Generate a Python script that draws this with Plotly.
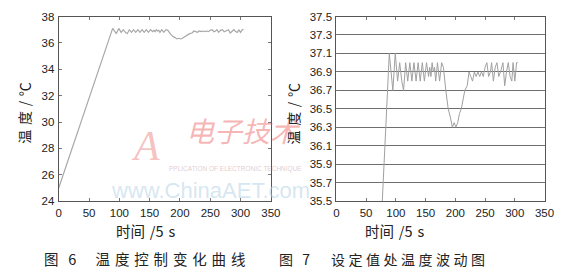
import plotly.graph_objects as go

# time (x 5 s) and temperature (°C)
time_s = [0, 89, 95, 99, 103, 106.5, 110, 113, 116.5, 120, 123.5, 127, 130.5, 134,
          137.5, 141, 144.5, 148, 151.5, 155, 157, 159, 161, 163, 165, 167, 170,
          173.5, 177, 180, 184, 188, 192, 195, 198, 201, 204, 207, 210, 213, 216,
          220, 223, 226, 229, 232, 235, 238, 241, 244, 247, 250, 253, 256, 259,
          261, 264, 267, 270, 273, 276, 280, 283, 286, 289, 292, 295, 297, 300,
          303, 305]
temp_c = [25.0, 37.1, 36.7, 37.1, 36.8, 37.0, 36.8, 36.7, 37.0, 36.8, 37.0, 36.8,
          37.0, 36.8, 37.0, 36.8, 37.0, 36.8, 37.0, 36.85, 36.95, 36.85, 37.0, 36.9,
          36.95, 36.8, 37.0, 36.8, 37.0, 36.95, 36.7, 36.5, 36.4, 36.3, 36.35, 36.3,
          36.35, 36.45, 36.5, 36.6, 36.7, 36.75, 36.9, 36.85, 36.8, 36.9, 36.85,
          36.9, 36.85, 36.9, 36.85, 36.95, 37.0, 36.85, 36.9, 37.0, 36.8, 36.95,
          37.0, 36.85, 36.9, 37.0, 36.75, 36.9, 37.0, 36.85, 36.8, 37.0, 36.8,
          37.0, 37.0]

x_ticks = [0, 50, 100, 150, 200, 250, 300, 350]
left_y_ticks = [24, 26, 28, 30, 32, 34, 36, 38]
right_y_ticks = [35.5, 35.7, 35.9, 36.1, 36.3, 36.5, 36.7, 36.9, 37.1, 37.3, 37.5]

S3 = "\u2004"   # three-per-em space
S4 = "\u2005"   # four-per-em space
x_title = "时间" + S3 + "/5" + S3 + "s"
y_title = "温" + S3 + "度" + S3 + "/" + S3 + "℃"
caption_left = "图" + S3 * 2 + "6" + S3 * 4 + S3.join("温度控制变化曲线")
caption_right = "图" + S3 * 2 + "7" + S4 * 6 + S4.join("设定值处温度波动图")

W, H = 579, 276
def px(x):
    return x / W
def py(y):
    return 1 - y / H

fig = go.Figure()
fig.add_trace(go.Scatter(x=time_s, y=temp_c, mode="lines",
                         line=dict(color="#a8a8a8", width=1.2),
                         xaxis="x", yaxis="y", showlegend=False))
fig.add_trace(go.Scatter(x=time_s, y=temp_c, mode="lines",
                         line=dict(color="#a0a0a0", width=1),
                         xaxis="x2", yaxis="y2", showlegend=False))

tickfont = dict(family="Liberation Sans, Arial", size=11.5, color="#222")
common_axis = dict(showline=True, linecolor="#555", linewidth=1, mirror="ticks",
                   ticks="inside", ticklen=3, tickcolor="#777", tickfont=tickfont,
                   zeroline=False, fixedrange=True)

fig.update_layout(
    width=W, height=H,
    margin=dict(l=0, r=0, t=0, b=0),
    paper_bgcolor="white", plot_bgcolor="white",
    xaxis=dict(domain=[px(57), px(274)], range=[0, 350], tickvals=x_ticks,
               showgrid=False, anchor="y", ticklabelstandoff=1, **common_axis),
    yaxis=dict(domain=[py(204), py(11)], range=[24, 38], tickvals=left_y_ticks,
               showgrid=False, anchor="x", ticklabelstandoff=1, **common_axis),
    xaxis2=dict(domain=[px(341), px(554)], range=[0, 350], tickvals=x_ticks,
                showgrid=False, anchor="y2", ticklabelstandoff=1, **common_axis),
    yaxis2=dict(domain=[py(204), py(11)], range=[35.5, 37.5], tickvals=right_y_ticks,
                tickformat=".1f", showgrid=True, gridcolor="#6e6e6e", gridwidth=1,
                anchor="x2", ticklabelstandoff=1, **common_axis),
)

cjk = "Noto Sans CJK SC"
anns = [
    # watermark (faint)
    dict(x=px(212), y=py(193), text="www.ChinaAET.com", xanchor="center",
         font=dict(family="Liberation Sans, Arial", size=22, color="rgba(180,210,230,0.55)")),
    dict(x=px(168), y=py(170), text="PPLICATION OF ELECTRONIC TECHNIQUE", xanchor="left",
         font=dict(family="Liberation Sans, Arial", size=6.5, color="rgba(200,160,160,0.55)")),
    dict(x=px(146), y=py(146), text="<i>A</i>", xanchor="center",
         font=dict(family="Liberation Serif", size=42, color="rgba(235,120,120,0.45)")),
    dict(x=px(246), y=py(130), text="<i>电子技术</i>", xanchor="center",
         font=dict(family=cjk, size=28, color="rgba(235,90,90,0.45)")),
    # titles
    dict(x=px(22), y=py(112), text=y_title, textangle=-90, xanchor="center",
         font=dict(family=cjk, size=14, color="#222")),
    dict(x=px(297), y=py(112), text=y_title, textangle=-90, xanchor="center",
         font=dict(family=cjk, size=14, color="#222")),
    dict(x=px(146), y=py(235), text=x_title, xanchor="center",
         font=dict(family=cjk, size=14.5, color="#222")),
    dict(x=px(400), y=py(235), text=x_title, xanchor="center",
         font=dict(family=cjk, size=14.5, color="#222")),
    dict(x=px(40), y=py(264), text=caption_left, xanchor="left",
         font=dict(family=cjk, size=14.5, color="#222")),
    dict(x=px(280), y=py(264), text=caption_right, xanchor="left",
         font=dict(family=cjk, size=14, color="#222")),
]
for a in anns:
    a.update(xref="paper", yref="paper", showarrow=False, yanchor="middle")
fig.update_layout(annotations=anns)

fig.write_html("out.html")
